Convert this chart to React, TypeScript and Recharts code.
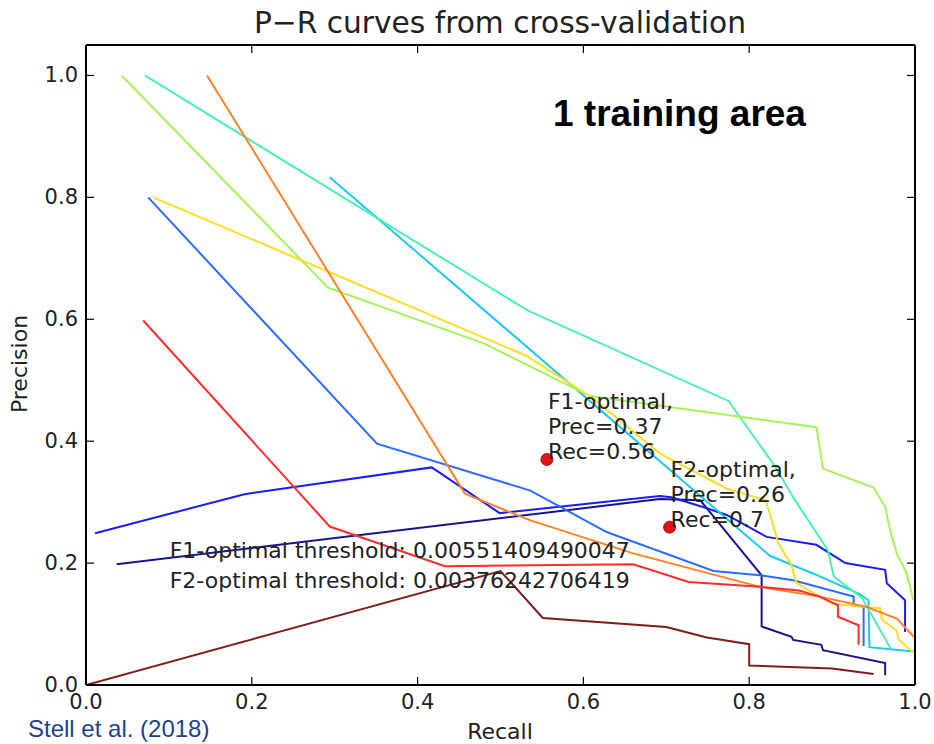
import { ComposedChart, Line, XAxis, YAxis, Scatter, ReferenceDot } from 'recharts'

// precision-recall pairs per fold: [recall, precision]
const fold0: number[][] = [[0.037, 0.198], [0.692, 0.305], [0.741, 0.303], [0.815, 0.18], [0.815, 0.096], [0.851, 0.079], [0.853, 0.074], [0.887, 0.066], [0.889, 0.057], [0.964, 0.036], [0.964, 0.016]]
const fold1: number[][] = [[0.011, 0.249], [0.191, 0.313], [0.417, 0.357], [0.499, 0.282], [0.692, 0.31], [0.706, 0.308], [0.749, 0.29], [0.773, 0.279], [0.821, 0.243], [0.881, 0.23], [0.916, 0.2], [0.964, 0.189], [0.966, 0.167], [0.988, 0.139], [0.988, 0.087]]
const fold2: number[][] = [[0.075, 0.8], [0.351, 0.396], [0.536, 0.319], [0.628, 0.251], [0.757, 0.187], [0.813, 0.18], [0.853, 0.172], [0.926, 0.145], [0.926, 0.131], [0.938, 0.128], [0.938, 0.064]]
const fold3: number[][] = [[0.294, 0.833], [0.789, 0.254], [0.825, 0.212], [0.877, 0.183], [0.932, 0.15], [0.944, 0.139], [0.945, 0.062], [0.998, 0.055]]
const fold4: number[][] = [[0.071, 1.0], [0.532, 0.615], [0.775, 0.466], [0.831, 0.359], [0.853, 0.308], [0.895, 0.221], [0.902, 0.178], [0.936, 0.143], [0.971, 0.059]]
const fold5: number[][] = [[0.043, 1.0], [0.292, 0.652], [0.479, 0.561], [0.608, 0.474], [0.789, 0.44], [0.881, 0.423], [0.889, 0.355], [0.95, 0.324], [0.964, 0.292], [0.97, 0.254], [0.978, 0.216], [0.99, 0.183], [0.998, 0.139]]
const fold6: number[][] = [[0.081, 0.8], [0.53, 0.541], [0.612, 0.47], [0.692, 0.38], [0.773, 0.322], [0.82, 0.303], [0.835, 0.233], [0.851, 0.197], [0.857, 0.167], [0.901, 0.133], [0.958, 0.126], [0.96, 0.107], [0.978, 0.089], [0.98, 0.075], [0.998, 0.053]]
const fold7: number[][] = [[0.146, 1.0], [0.457, 0.314], [0.536, 0.27], [0.66, 0.216], [0.813, 0.161], [0.885, 0.145], [0.942, 0.128], [0.978, 0.109], [1.0, 0.077]]
const fold8: number[][] = [[0.069, 0.598], [0.294, 0.26], [0.433, 0.195], [0.66, 0.198], [0.727, 0.169], [0.813, 0.161], [0.86, 0.155], [0.885, 0.145], [0.907, 0.131], [0.907, 0.112], [0.932, 0.098], [0.932, 0.066]]
const fold9: number[][] = [[0, 0], [0.5, 0.187], [0.551, 0.11], [0.7, 0.095], [0.749, 0.078], [0.8, 0.067], [0.8, 0.032], [0.9, 0.027], [0.95, 0.018]]

const folds = [fold0, fold1, fold2, fold3, fold4, fold5, fold6, fold7, fold8, fold9]
const foldColors = ['#16168c', '#1c1cf5', '#2b6cff', '#1cc8f5', '#4cf0b0', '#a6f25a', '#ffdc22', '#ff8228', '#ff2d2d', '#7f1c1c']

const optimalRecall = [0.556, 0.704]
const optimalPrecision = [0.37, 0.259]
const optimalLabels = [
  ['F1-optimal,', 'Prec=0.37', 'Rec=0.56'],
  ['F2-optimal,', 'Prec=0.26', 'Rec=0.7'],
]
const thresholdLines = ['F1-optimal threshold: 0.00551409490047', 'F2-optimal threshold: 0.00376242706419']

const xTicks = [0, 0.2, 0.4, 0.6, 0.8, 1.0]
const yTicks = [0, 0.2, 0.4, 0.6, 0.8, 1.0]

const font = 'DejaVu Sans, sans-serif'
const textColor = '#222'

const BottomTick = (props: any) => {
  const { x, y, payload } = props
  return (
    <g>
      <line x1={x} x2={x} y1={y} y2={y - 8} stroke="#000" strokeWidth={1.2} />
      <text x={x} y={y + 24} textAnchor="middle" fontSize={21} fontFamily={font} fill={textColor}>
        {payload.value.toFixed(1)}
      </text>
    </g>
  )
}

const LeftTick = (props: any) => {
  const { x, y, payload } = props
  return (
    <g>
      <line x1={x} x2={x + 8} y1={y} y2={y} stroke="#000" strokeWidth={1.2} />
      <text x={x - 8} y={y + 7} textAnchor="end" fontSize={21} fontFamily={font} fill={textColor}>
        {payload.value.toFixed(1)}
      </text>
    </g>
  )
}

const TopTick = (props: any) => {
  const { x, y } = props
  return <line x1={x} x2={x} y1={y} y2={y + 8} stroke="#000" strokeWidth={1.2} />
}

const RightTick = (props: any) => {
  const { x, y } = props
  return <line x1={x} x2={x - 8} y1={y} y2={y} stroke="#000" strokeWidth={1.2} />
}

const optimalLabel = (lines: string[]) => (props: any) => {
  const { viewBox } = props
  const cx = viewBox.x + viewBox.width / 2
  const cy = viewBox.y + viewBox.height / 2
  return (
    <g>
      {lines.map((s, i) => (
        <text key={i} x={cx + 1} y={cy - 50 + i * 25} fontSize={22} fontFamily={font} fill={textColor}>
          {s}
        </text>
      ))}
    </g>
  )
}

const thresholdLabel = (props: any) => {
  const { viewBox } = props
  return (
    <g>
      {thresholdLines.map((s, i) => (
        <text key={i} x={viewBox.x} y={viewBox.y + i * 30} fontSize={22} fontFamily={font} fill={textColor}>
          {s}
        </text>
      ))}
    </g>
  )
}

export default function App() {
  const optimal = optimalRecall.map((r, i) => ({ r, p: optimalPrecision[i] }))
  return (
    <div style={{ position: 'absolute', left: 0, top: 0, width: 934, height: 744, background: '#fff' }}>
      <ComposedChart width={934} height={744} margin={{ top: 44, right: 18, bottom: 58, left: 85 }}>
        <XAxis
          xAxisId="bottom"
          type="number"
          dataKey="r"
          domain={[0, 1]}
          ticks={xTicks}
          allowDataOverflow
          height={1}
          tickSize={0}
          tickMargin={0}
          tick={BottomTick}
          axisLine={{ stroke: '#000', strokeWidth: 2 }}
          tickLine={false}
        />
        <XAxis
          xAxisId="top"
          orientation="top"
          type="number"
          dataKey="r"
          domain={[0, 1]}
          ticks={[0.2, 0.4, 0.6, 0.8]}
          allowDataOverflow
          height={1}
          tickSize={0}
          tickMargin={0}
          tick={TopTick}
          axisLine={{ stroke: '#000', strokeWidth: 2 }}
          tickLine={false}
        />
        <YAxis
          yAxisId="left"
          type="number"
          dataKey="p"
          domain={[0, 1.05]}
          ticks={yTicks}
          allowDataOverflow
          width={1}
          tickSize={0}
          tickMargin={0}
          tick={LeftTick}
          axisLine={{ stroke: '#000', strokeWidth: 2 }}
          tickLine={false}
        />
        <YAxis
          yAxisId="right"
          orientation="right"
          type="number"
          dataKey="p"
          domain={[0, 1.05]}
          ticks={[0.2, 0.4, 0.6, 0.8, 1.0]}
          allowDataOverflow
          width={1}
          tickSize={0}
          tickMargin={0}
          tick={RightTick}
          axisLine={{ stroke: '#000', strokeWidth: 2 }}
          tickLine={false}
        />
        {folds.map((f, i) => (
          <Line
            key={i}
            xAxisId="bottom"
            yAxisId="left"
            data={f.map(([r, p]) => ({ r, p }))}
            dataKey="p"
            type="linear"
            stroke={foldColors[i]}
            strokeWidth={2}
            dot={false}
            activeDot={false}
            isAnimationActive={false}
          />
        ))}
        <Scatter
          xAxisId="bottom"
          yAxisId="left"
          data={optimal}
          dataKey="p"
          fill="#e3121a"
          shape={(props: any) => <circle cx={props.cx} cy={props.cy} r={6} fill="#e3121a" stroke="#8a0000" strokeWidth={0.8} />}
          isAnimationActive={false}
        />
        {optimal.map((d, i) => (
          <ReferenceDot
            key={i}
            xAxisId="bottom"
            yAxisId="left"
            x={d.r}
            y={d.p}
            r={0}
            fill="none"
            stroke="none"
            label={optimalLabel(optimalLabels[i])}
          />
        ))}
        <ReferenceDot xAxisId="bottom" yAxisId="left" x={0.101} y={0.208} r={0} fill="none" stroke="none" label={thresholdLabel} />
        <text x={500} y={33} textAnchor="middle" fontSize={31} fontFamily={font} fill={textColor} textLength={492} lengthAdjust="spacingAndGlyphs">
          P−R curves from cross-validation
        </text>
        <text x={500} y={739} textAnchor="middle" fontSize={22} fontFamily={font} fill={textColor}>
          Recall
        </text>
        <text x={27} y={364} textAnchor="middle" fontSize={22} fontFamily={font} fill={textColor} transform="rotate(-90 27 364)">
          Precision
        </text>
        <text x={553} y={126} fontSize={37} fontWeight="bold" fontFamily="Liberation Sans, Arial, sans-serif" fill="#000">
          1 training area
        </text>
        <text x={28} y={737} fontSize={24} fontFamily="Liberation Sans, Arial, sans-serif" fill="#1f3f8f">
          Stell et al. (2018)
        </text>
      </ComposedChart>
    </div>
  )
}
